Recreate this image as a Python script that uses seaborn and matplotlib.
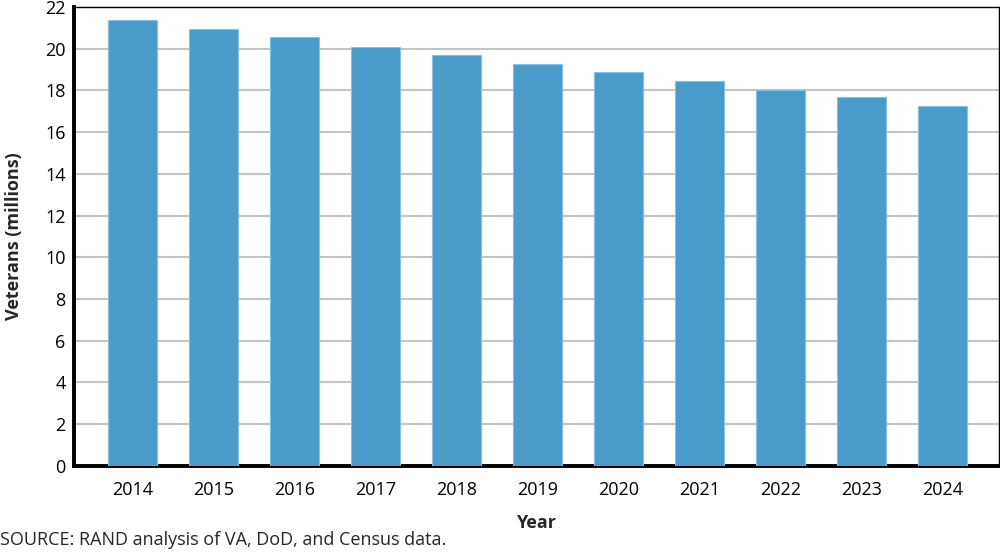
import pandas as pd
import matplotlib
matplotlib.use("Agg")
import matplotlib.pyplot as plt
import seaborn as sns

years = ["2014", "2015", "2016", "2017", "2018", "2019", "2020", "2021", "2022", "2023", "2024"]
veterans = [21.36, 20.94, 20.54, 20.08, 19.70, 19.27, 18.86, 18.43, 18.02, 17.70, 17.27]
y_ticks = [0, 2, 4, 6, 8, 10, 12, 14, 16, 18, 20, 22]

df = pd.DataFrame({"Year": years, "Veterans": veterans})

sns.set_theme(style="white")
plt.rcParams['font.family'] = ['Open Sans', 'DejaVu Sans']

fig = plt.figure(figsize=(10, 5.58), dpi=100)
ax = fig.add_axes([0.074, 0.165, 0.925, 0.8225])

sns.barplot(data=df, x="Year", y="Veterans", color="#4A9BC9", width=0.6,
            edgecolor="#86C1E2", linewidth=0.8, saturation=1, ax=ax, zorder=3)

ax.set_ylim(0, 22)
ax.set_yticks(y_ticks)
ax.set_xlim(-0.72, 10.70)
ax.yaxis.grid(True, color="#C4C4C4", linewidth=1.5, zorder=0)
ax.set_axisbelow(True)

for side in ["top", "right"]:
    ax.spines[side].set_color("black")
    ax.spines[side].set_linewidth(1.0)
for side in ["left", "bottom"]:
    ax.spines[side].set_color("black")
    ax.spines[side].set_linewidth(2.8)

ax.tick_params(axis="x", length=0, labelsize=13, colors="black", pad=11)
ax.tick_params(axis="y", length=0, labelsize=13, colors="black", pad=6)
ax.set_xlabel("Year", fontsize=13, fontweight="bold", labelpad=11)
ax.set_ylabel("Veterans (millions)", fontsize=13, fontweight="bold", labelpad=16)

fig.text(0.0, 0.016, "SOURCE: RAND analysis of VA, DoD, and Census data.", fontsize=13,
         ha="left", va="bottom")

fig.savefig("out.png", dpi=100)
